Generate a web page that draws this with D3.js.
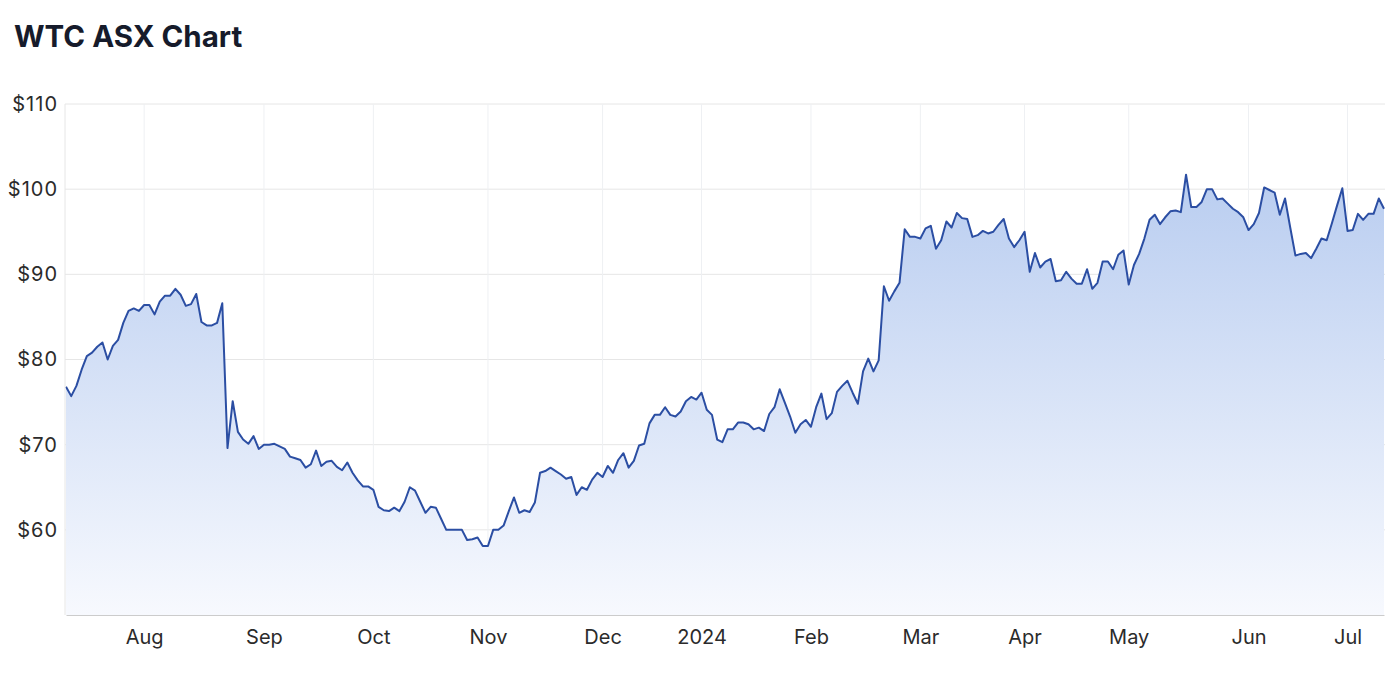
<!DOCTYPE html>
<html>
<head>
<meta charset="utf-8">
<script src="https://cdn.jsdelivr.net/npm/d3@7"></script>
<style>
  body { margin: 0; background: #fff; font-family: Inter, "Noto Sans", sans-serif; }
  .title { font-family: Inter, sans-serif; font-weight: 700; font-size: 29.5px; fill: #161b2b; }
  .tick text { font-family: Inter, sans-serif; font-size: 20px; fill: #2b2b2b; }
  .y-axis .tick text { letter-spacing: 1px; }
</style>
</head>
<body>
<script>
// first trading day shown, and ASX holidays inside the window
var startDate = '2023-07-11';
var endDate = '2024-07-10';
var holidays = ['2023-12-25', '2023-12-26', '2024-01-01', '2024-01-26',
                '2024-03-29', '2024-04-01', '2024-04-25', '2024-06-10'];

// closing prices, one per trading day
var prices = [
  76.8, 75.7, 76.9, 78.8, 80.4, 80.8, 81.5, 82.0, 80.0, 81.6,
  82.3, 84.3, 85.7, 86.0, 85.7, 86.4, 86.4, 85.3, 86.8, 87.5,
  87.5, 88.3, 87.6, 86.3, 86.5, 87.7, 84.4, 84.0, 84.0, 84.3,
  86.6, 69.6, 75.1, 71.5, 70.6, 70.1, 71.0, 69.5, 70.0, 70.0,
  70.1, 69.8, 69.5, 68.6, 68.4, 68.2, 67.3, 67.7, 69.3, 67.5,
  68.0, 68.1, 67.4, 67.0, 67.9, 66.7, 65.8, 65.1, 65.1, 64.7,
  62.7, 62.3, 62.2, 62.6, 62.2, 63.3, 65.0, 64.6, 63.3, 62.0,
  62.7, 62.6, 61.3, 60.0, 60.0, 60.0, 60.0, 58.8, 58.9, 59.1,
  58.1, 58.1, 60.0, 60.0, 60.5, 62.2, 63.8, 62.0, 62.3, 62.1,
  63.2, 66.7, 66.9, 67.3, 66.9, 66.5, 66.0, 66.2, 64.1, 65.0,
  64.7, 65.9, 66.7, 66.2, 67.5, 66.7, 68.2, 69.0, 67.3, 68.1,
  69.9, 70.1, 72.5, 73.5, 73.5, 74.4, 73.5, 73.3, 73.9, 75.1,
  75.6, 75.3, 76.1, 74.1, 73.5, 70.6, 70.3, 71.8, 71.8, 72.6,
  72.6, 72.4, 71.8, 72.0, 71.6, 73.6, 74.4, 76.5, 74.9, 73.3,
  71.4, 72.4, 72.9, 72.1, 74.4, 76.0, 73.0, 73.7, 76.2, 76.9,
  77.5, 76.1, 74.8, 78.6, 80.1, 78.6, 79.9, 88.6, 86.9, 88.0,
  89.0, 95.3, 94.4, 94.4, 94.2, 95.4, 95.7, 93.0, 94.0, 96.2,
  95.5, 97.2, 96.6, 96.5, 94.4, 94.6, 95.1, 94.8, 95.0, 95.8,
  96.5, 94.2, 93.2, 94.0, 95.0, 90.3, 92.5, 90.8, 91.5, 91.8,
  89.2, 89.3, 90.3, 89.5, 88.9, 88.9, 90.6, 88.3, 89.0, 91.5,
  91.5, 90.6, 92.3, 92.8, 88.8, 91.1, 92.4, 94.2, 96.4, 97.0,
  95.9, 96.7, 97.4, 97.5, 97.3, 101.7, 97.9, 97.9, 98.5, 100.0,
  100.0, 98.8, 98.9, 98.3, 97.7, 97.3, 96.7, 95.2, 95.9, 97.2,
  100.2, 99.9, 99.6, 97.0, 98.9, 95.5, 92.2, 92.4, 92.5, 91.9,
  93.0, 94.2, 94.0, 96.0, 98.1, 100.1, 95.1, 95.2, 97.1, 96.4,
  97.1, 97.1, 98.9, 97.7
];

var yTicks = [60, 70, 80, 90, 100, 110];

var parse = d3.timeParse('%Y-%m-%d');
var fmt = d3.timeFormat('%Y-%m-%d');

// trading calendar: weekdays minus holidays
var days = d3.timeDay.range(parse(startDate), d3.timeDay.offset(parse(endDate), 1))
  .filter(d => d.getDay() != 0 && d.getDay() != 6 && holidays.indexOf(fmt(d)) < 0)
  .map(fmt);

var data = days.map((d, i) => ({ day: d, price: prices[i] }));

// first trading day of every month gets a tick
var monthStarts = days.filter((d, i) => i > 0 && d.slice(0, 7) != days[i - 1].slice(0, 7));

var width = 1400, height = 686;
var plotL = 65, plotR = 1385, plotT = 104, plotB = 615;

var svg = d3.select('body').append('svg')
  .attr('width', width)
  .attr('height', height);

var x = d3.scalePoint()
  .domain(days)
  .range([plotL + 1, plotR - 1]);

var y = d3.scaleLinear()
  .domain([50, 110])
  .range([plotB, plotT]);

var defs = svg.append('defs');
var grad = defs.append('linearGradient')
  .attr('id', 'fill')
  .attr('x1', 0).attr('y1', 0).attr('x2', 0).attr('y2', 1);
grad.append('stop').attr('offset', '0%').attr('stop-color', '#b9cdf0');
grad.append('stop').attr('offset', '100%').attr('stop-color', '#f7f9fe');

svg.append('text')
  .attr('class', 'title')
  .attr('x', 14)
  .attr('y', 47)
  .text('WTC ASX Chart');

// grid
svg.append('g')
  .selectAll('line')
  .data(yTicks)
  .enter().append('line')
  .attr('x1', plotL).attr('x2', plotR)
  .attr('y1', d => y(d)).attr('y2', d => y(d))
  .attr('stroke', '#e6e6e6');

svg.append('g')
  .selectAll('line')
  .data(monthStarts)
  .enter().append('line')
  .attr('x1', d => x(d)).attr('x2', d => x(d))
  .attr('y1', plotT).attr('y2', plotB)
  .attr('stroke', '#eef0f3');

// area + line
var area = d3.area()
  .x(d => x(d.day))
  .y0(plotB)
  .y1(d => y(d.price));

var line = d3.line()
  .x(d => x(d.day))
  .y(d => y(d.price));

svg.append('path')
  .datum(data)
  .attr('d', area)
  .attr('fill', 'url(#fill)');

svg.append('path')
  .datum(data)
  .attr('d', line)
  .attr('fill', 'none')
  .attr('stroke', '#2b4ea3')
  .attr('stroke-width', 2)
  .attr('stroke-linejoin', 'round');

// plot frame
svg.append('line')
  .attr('x1', plotL).attr('x2', plotL)
  .attr('y1', plotT).attr('y2', plotB)
  .attr('stroke', '#e6e6e6');

// axes
var yAxis = d3.axisLeft(y)
  .tickValues(yTicks)
  .tickSize(0)
  .tickPadding(7)
  .tickFormat(d => '$' + d);

svg.append('g')
  .attr('class', 'y-axis')
  .attr('transform', 'translate(' + plotL + ',0)')
  .call(yAxis)
  .call(g => g.select('.domain').remove());

var xAxis = d3.axisBottom(x)
  .tickValues(monthStarts)
  .tickSize(0)
  .tickPadding(15)
  .tickFormat(d => d.slice(5, 7) == '01' ? d.slice(0, 4) : d3.timeFormat('%b')(parse(d)));

svg.append('g')
  .attr('transform', 'translate(0,' + plotB + ')')
  .call(xAxis)
  .call(g => g.select('.domain').attr('stroke', '#cccccc'));
</script>
</body>
</html>
